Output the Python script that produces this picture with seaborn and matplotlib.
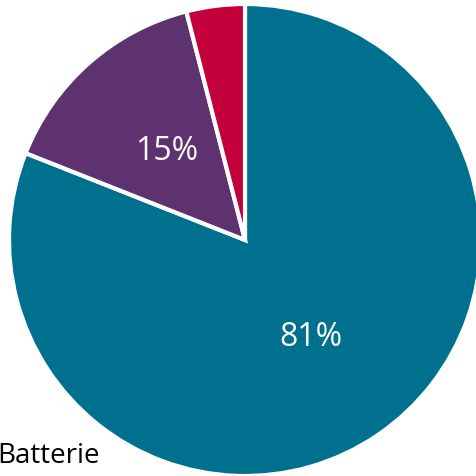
import matplotlib
matplotlib.use("Agg")
import matplotlib.pyplot as plt
import seaborn as sns

# slice data, clockwise from 12 o'clock
labels = ["Batterie", "Sonstige", "Andere"]
shares = [81, 15, 4]
colors = ["#00708F", "#5E326E", "#C4003C"]

sns.set_style("white")
plt.rcParams['font.family'] = ['Open Sans', 'DejaVu Sans']
palette = sns.color_palette(colors)

fig = plt.figure(figsize=(4.77, 4.76), dpi=100)
ax = fig.add_axes([0, 0, 1, 1])

def fmt(p):
    return f"{p:.0f}%" if p >= 10 else ""

wedges, _, autotexts = ax.pie(shares, colors=palette, startangle=90, counterclock=False,
                              autopct=fmt, pctdistance=0.5,
                              wedgeprops=dict(edgecolor="white", linewidth=3),
                              textprops=dict(color="white", fontsize=23))

r = 236
ax.set_xlim(-245 / r, (477 - 245) / r)
ax.set_ylim(-(476 - 240) / r, 240 / r)
ax.set_aspect("equal")
ax.axis("off")

fig.text(-0.006, 0.027, labels[0], fontsize=20, color="black", ha="left", va="baseline")

fig.savefig("out.png", dpi=100)
